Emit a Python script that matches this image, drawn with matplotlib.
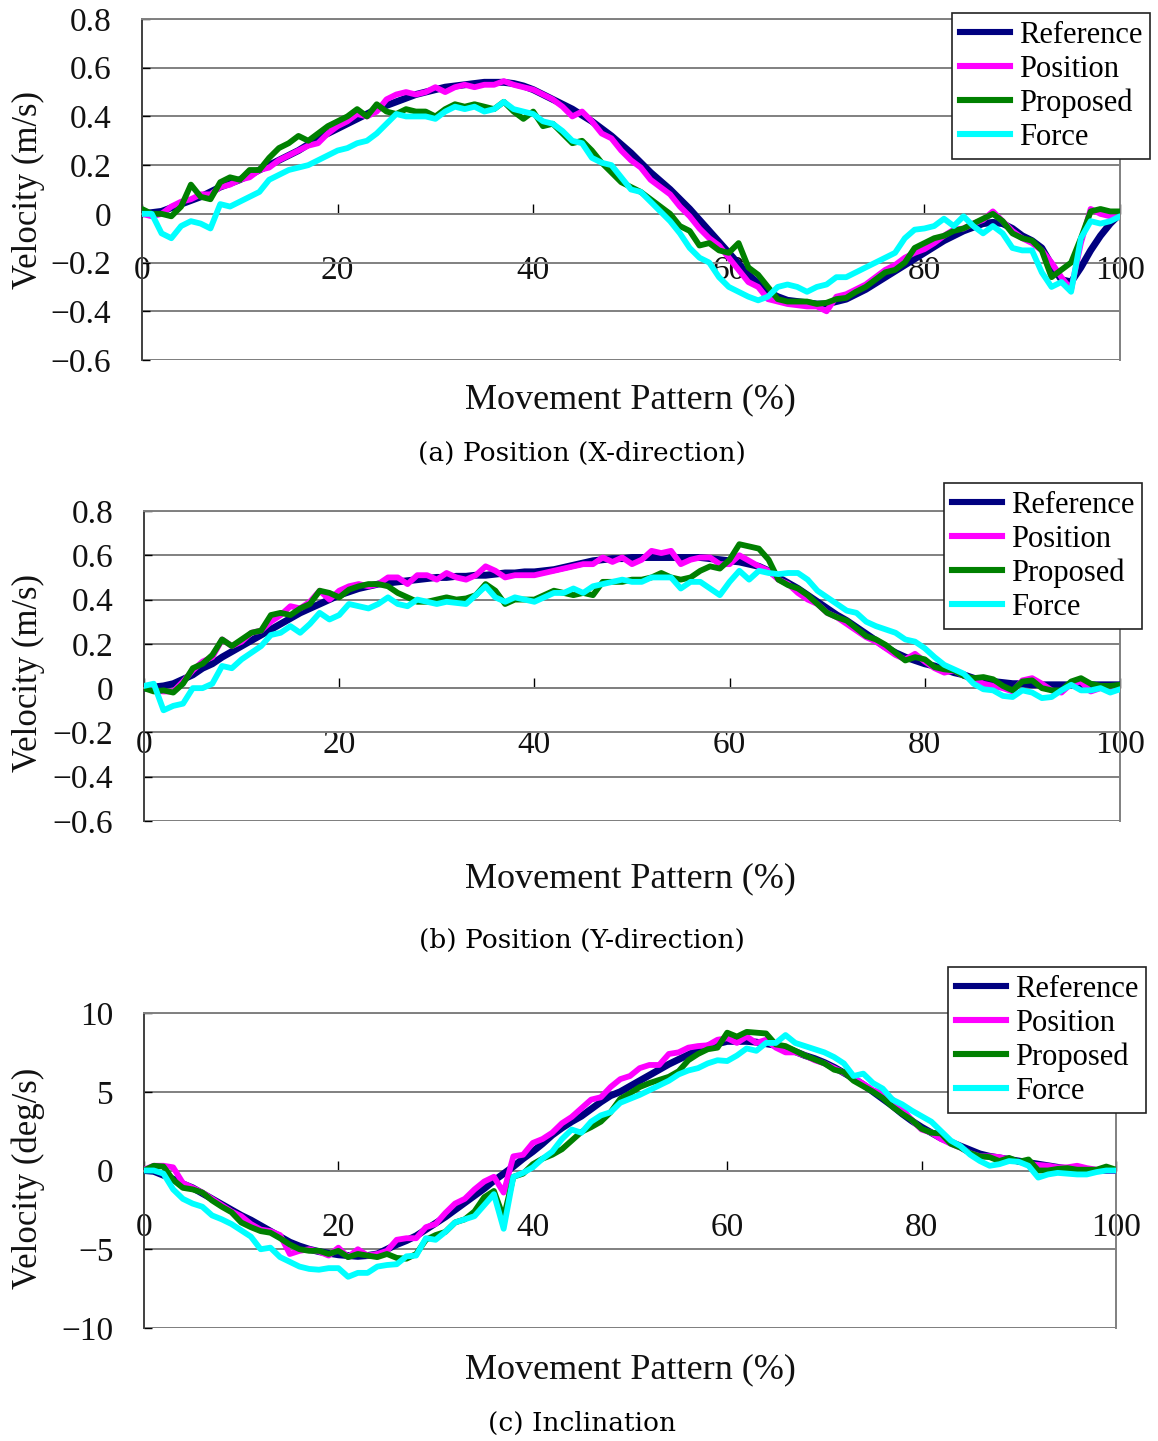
import matplotlib
matplotlib.use("Agg")
import matplotlib.pyplot as plt
from matplotlib.ticker import FuncFormatter
from matplotlib.lines import Line2D

W, H = 1158, 1441

# movement pattern axis (percent)
PCT = list(range(0, 101))

# ---- panel (a): velocity, X direction (m/s)
REF_A = [0.0, 0.005, 0.01, 0.025, 0.04, 0.055, 0.07, 0.09, 0.11, 0.125,
         0.14, 0.16, 0.18, 0.2, 0.22, 0.24, 0.26, 0.285, 0.31, 0.33,
         0.35, 0.37, 0.39, 0.41, 0.43, 0.445, 0.46, 0.475, 0.49, 0.5,
         0.51, 0.52, 0.525, 0.53, 0.535, 0.54, 0.54, 0.54, 0.535, 0.525,
         0.51, 0.49, 0.47, 0.45, 0.43, 0.405, 0.38, 0.35, 0.32, 0.285,
         0.25, 0.21, 0.17, 0.135, 0.1, 0.06, 0.02, -0.025, -0.07, -0.115,
         -0.16, -0.205, -0.25, -0.285, -0.32, -0.34, -0.355, -0.36, -0.365, -0.37,
         -0.37, -0.36, -0.35, -0.33, -0.31, -0.285, -0.26, -0.235, -0.21, -0.185,
         -0.16, -0.135, -0.11, -0.09, -0.07, -0.055, -0.04, -0.035, -0.04, -0.06,
         -0.09, -0.11, -0.14, -0.21, -0.27, -0.28, -0.22, -0.15, -0.09, -0.04,
         0.0]
MAG_A = [0.0, -0.01, 0.0, 0.03, 0.05, 0.06, 0.08, 0.08, 0.11, 0.12,
         0.14, 0.15, 0.18, 0.19, 0.22, 0.24, 0.26, 0.28, 0.29, 0.33,
         0.36, 0.38, 0.41, 0.4, 0.42, 0.47, 0.49, 0.5, 0.49, 0.5,
         0.52, 0.5, 0.52, 0.53, 0.52, 0.53, 0.53, 0.545, 0.53, 0.52,
         0.51, 0.49, 0.47, 0.44, 0.4, 0.42, 0.38, 0.33, 0.31, 0.26,
         0.22, 0.19, 0.14, 0.11, 0.08, 0.03, -0.01, -0.06, -0.1, -0.13,
         -0.18, -0.23, -0.28, -0.3, -0.35, -0.36, -0.37, -0.375, -0.38, -0.38,
         -0.4, -0.34, -0.33, -0.31, -0.29, -0.26, -0.23, -0.21, -0.18, -0.16,
         -0.145, -0.12, -0.09, -0.065, -0.06, -0.04, -0.025, 0.01, -0.03, -0.07,
         -0.1, -0.12, -0.15, -0.2, -0.26, -0.31, -0.12, 0.02, 0.0, -0.01,
         -0.01]
GRN_A = [0.02, 0.0, 0.0, -0.01, 0.03, 0.12, 0.07, 0.06, 0.13, 0.15,
         0.14, 0.18, 0.18, 0.23, 0.27, 0.29, 0.32, 0.3, 0.33, 0.36,
         0.38, 0.4, 0.43, 0.4, 0.45, 0.42, 0.41, 0.43, 0.42, 0.42,
         0.4, 0.43, 0.45, 0.44, 0.45, 0.44, 0.43, 0.46, 0.42, 0.39,
         0.42, 0.36, 0.37, 0.33, 0.29, 0.3, 0.26, 0.21, 0.17, 0.13,
         0.11, 0.09, 0.06, 0.03, 0.0, -0.05, -0.07, -0.13, -0.12, -0.15,
         -0.16, -0.12, -0.22, -0.25, -0.3, -0.35, -0.36, -0.36, -0.36, -0.37,
         -0.365, -0.35, -0.345, -0.32, -0.3, -0.27, -0.24, -0.23, -0.2, -0.14,
         -0.12, -0.1, -0.09, -0.07, -0.06, -0.04, -0.02, 0.0, -0.03, -0.08,
         -0.1, -0.11, -0.15, -0.26, -0.23, -0.2, -0.1, 0.01, 0.02, 0.01,
         0.01]
CYN_A = [0.0, 0.0, -0.08, -0.1, -0.05, -0.03, -0.04, -0.06, 0.04, 0.03,
         0.05, 0.07, 0.09, 0.14, 0.16, 0.18, 0.19, 0.2, 0.22, 0.24,
         0.26, 0.27, 0.29, 0.3, 0.33, 0.37, 0.41, 0.4, 0.4, 0.4,
         0.39, 0.42, 0.44, 0.43, 0.44, 0.42, 0.43, 0.46, 0.43, 0.42,
         0.41, 0.38, 0.37, 0.34, 0.3, 0.29, 0.23, 0.21, 0.2, 0.15,
         0.1, 0.09, 0.05, 0.01, -0.03, -0.08, -0.14, -0.18, -0.2, -0.26,
         -0.3, -0.32, -0.34, -0.355, -0.34, -0.3, -0.29, -0.3, -0.32, -0.3,
         -0.29, -0.26, -0.26, -0.24, -0.22, -0.2, -0.18, -0.16, -0.1, -0.065,
         -0.06, -0.05, -0.02, -0.05, -0.01, -0.05, -0.08, -0.05, -0.08, -0.14,
         -0.15, -0.15, -0.24, -0.3, -0.28, -0.32, -0.1, -0.03, -0.04, -0.03,
         -0.01]

# ---- panel (b): velocity, Y direction (m/s)
REF_B = [0.0, 0.005, 0.01, 0.02, 0.04, 0.06, 0.09, 0.11, 0.14, 0.165,
         0.19, 0.215, 0.24, 0.265, 0.29, 0.315, 0.34, 0.36, 0.38, 0.4,
         0.42, 0.435, 0.45, 0.46, 0.47, 0.475, 0.48, 0.485, 0.49, 0.495,
         0.5, 0.5, 0.505, 0.505, 0.51, 0.51, 0.515, 0.52, 0.52, 0.525,
         0.525, 0.53, 0.535, 0.545, 0.555, 0.565, 0.575, 0.58, 0.585, 0.585,
         0.59, 0.59, 0.59, 0.59, 0.59, 0.59, 0.59, 0.59, 0.585, 0.58,
         0.575, 0.57, 0.56, 0.55, 0.53, 0.5, 0.475, 0.45, 0.42, 0.39,
         0.36, 0.33, 0.305, 0.275, 0.245, 0.215, 0.185, 0.16, 0.14, 0.125,
         0.11, 0.1, 0.085, 0.07, 0.06, 0.045, 0.035, 0.03, 0.025, 0.02,
         0.02, 0.015, 0.015, 0.015, 0.015, 0.015, 0.015, 0.015, 0.015, 0.015,
         0.015]
MAG_B = [0.01, -0.01, -0.015, -0.015, 0.03, 0.08, 0.12, 0.14, 0.22, 0.19,
         0.21, 0.25, 0.26, 0.3, 0.33, 0.37, 0.36, 0.39, 0.44, 0.4,
         0.44, 0.46, 0.47, 0.46, 0.47, 0.5, 0.5, 0.47, 0.51, 0.51,
         0.49, 0.52, 0.5, 0.49, 0.51, 0.55, 0.53, 0.5, 0.51, 0.51,
         0.51, 0.52, 0.53, 0.54, 0.55, 0.56, 0.56, 0.59, 0.57, 0.59,
         0.56, 0.58, 0.62, 0.61, 0.62, 0.56, 0.58, 0.59, 0.59, 0.56,
         0.56, 0.6, 0.575, 0.55, 0.53, 0.49, 0.47, 0.43, 0.4, 0.38,
         0.34, 0.32, 0.29, 0.26, 0.23, 0.21, 0.18, 0.15, 0.13, 0.155,
         0.12, 0.09, 0.07, 0.08, 0.055, 0.04, 0.02, 0.01, 0.0, -0.015,
         0.035, 0.045, 0.02, -0.01, -0.02, 0.02, 0.03, -0.015, 0.0, 0.0,
         0.0]
GRN_B = [0.0, -0.015, -0.01, -0.02, 0.02, 0.09, 0.11, 0.15, 0.22, 0.19,
         0.22, 0.25, 0.26, 0.33, 0.34, 0.33, 0.36, 0.38, 0.44, 0.43,
         0.41, 0.445, 0.46, 0.47, 0.47, 0.46, 0.43, 0.41, 0.39, 0.39,
         0.4, 0.41, 0.4, 0.405, 0.42, 0.47, 0.44, 0.38, 0.4, 0.4,
         0.4, 0.42, 0.44, 0.43, 0.42, 0.43, 0.42, 0.48, 0.48, 0.48,
         0.49, 0.49, 0.5, 0.52, 0.5, 0.49, 0.5, 0.53, 0.55, 0.54,
         0.58, 0.65, 0.64, 0.63, 0.58, 0.49, 0.465, 0.45, 0.42, 0.38,
         0.34, 0.32, 0.305, 0.27, 0.235, 0.22, 0.195, 0.16, 0.125, 0.14,
         0.13, 0.095, 0.085, 0.08, 0.055, 0.045, 0.05, 0.04, 0.01, -0.01,
         0.03, 0.035, 0.0, -0.01, -0.01, 0.03, 0.045, 0.02, 0.01, 0.01,
         0.015]
CYN_B = [0.01, 0.02, -0.1, -0.08, -0.07, 0.0, 0.0, 0.02, 0.1, 0.09,
         0.13, 0.16, 0.19, 0.24, 0.25, 0.28, 0.25, 0.29, 0.34, 0.31,
         0.33, 0.38, 0.37, 0.36, 0.38, 0.41, 0.38, 0.37, 0.4, 0.39,
         0.38, 0.39, 0.385, 0.38, 0.42, 0.46, 0.41, 0.39, 0.41, 0.4,
         0.39, 0.41, 0.43, 0.43, 0.45, 0.43, 0.46, 0.47, 0.48, 0.49,
         0.48, 0.48, 0.5, 0.5, 0.5, 0.45, 0.48, 0.48, 0.45, 0.42,
         0.48, 0.53, 0.49, 0.53, 0.52, 0.515, 0.52, 0.52, 0.49, 0.44,
         0.41, 0.38, 0.35, 0.34, 0.3, 0.28, 0.265, 0.25, 0.22, 0.21,
         0.18, 0.14, 0.105, 0.085, 0.065, 0.02, -0.005, -0.01, -0.035, -0.04,
         -0.01, -0.02, -0.045, -0.04, -0.01, 0.015, -0.01, -0.01, 0.0, -0.02,
         -0.005]

# ---- panel (c): inclination velocity (deg/s)
REF_C = [0.0, -0.05, -0.3, -0.55, -0.85, -1.1, -1.45, -1.8, -2.15, -2.5,
         -2.85, -3.15, -3.5, -3.85, -4.2, -4.55, -4.8, -5.0, -5.15, -5.25,
         -5.35, -5.4, -5.45, -5.4, -5.3, -5.0, -4.7, -4.45, -4.15, -3.75,
         -3.35, -2.95, -2.5, -2.05, -1.6, -1.15, -0.65, -0.2, 0.25, 0.75,
         1.2, 1.7, 2.25, 2.7, 3.1, 3.45, 3.9, 4.35, 4.75, 5.0,
         5.35, 5.7, 6.05, 6.4, 6.75, 7.05, 7.35, 7.65, 7.9, 8.05,
         8.2, 8.2, 8.2, 8.15, 8.05, 7.95, 7.8, 7.55, 7.3, 7.1,
         6.85, 6.55, 6.2, 5.85, 5.45, 5.0, 4.55, 4.1, 3.6, 3.15,
         2.75, 2.4, 2.05, 1.8, 1.55, 1.3, 1.05, 0.9, 0.8, 0.7,
         0.6, 0.5, 0.4, 0.3, 0.2, 0.1, 0.05, 0.0, 0.0, 0.0,
         0.0]
MAG_C = [0.05, 0.3, 0.3, 0.2, -0.8, -1.1, -1.4, -1.8, -2.2, -2.6,
         -2.9, -3.4, -3.75, -3.85, -4.1, -5.3, -5.1, -5.0, -5.15, -5.4,
         -4.9, -5.5, -5.0, -5.4, -5.3, -5.1, -4.4, -4.3, -4.3, -3.6,
         -3.4, -2.7, -2.1, -1.8, -1.2, -0.7, -0.4, -1.4, 0.9, 1.0,
         1.75, 2.0, 2.4, 3.0, 3.4, 3.95, 4.5, 4.65, 5.3, 5.8,
         6.0, 6.5, 6.7, 6.7, 7.4, 7.5, 7.8, 7.9, 7.95, 8.3,
         8.4, 8.1, 8.5, 8.1, 8.3, 7.8, 7.5, 7.5, 7.3, 7.0,
         6.8, 6.5, 6.2, 5.9, 5.5, 5.1, 4.9, 4.5, 3.9, 3.2,
         2.6, 2.4, 2.0, 1.7, 1.45, 1.1, 0.9, 0.9, 0.85, 0.7,
         0.55, 0.4, 0.35, 0.3, 0.2, 0.2, 0.3, 0.15, 0.05, 0.0,
         0.0]
GRN_C = [0.0, 0.3, 0.25, -0.6, -1.1, -1.2, -1.4, -1.9, -2.3, -2.65,
         -3.3, -3.6, -3.85, -3.95, -4.3, -4.7, -5.0, -5.1, -5.1, -5.3,
         -5.1, -5.5, -5.3, -5.4, -5.5, -5.3, -5.55, -5.6, -5.3, -4.4,
         -4.1, -3.9, -3.3, -3.1, -2.6, -1.7, -1.3, -3.0, -0.4, -0.2,
         0.4, 0.75, 1.0, 1.35, 1.9, 2.45, 2.75, 3.1, 3.7, 4.55,
         4.9, 5.3, 5.55, 5.75, 5.95, 6.3, 7.0, 7.4, 7.7, 7.8,
         8.75, 8.5, 8.8, 8.75, 8.7, 8.0, 7.9, 7.6, 7.3, 7.05,
         6.8, 6.4, 6.25, 5.7, 5.35, 5.0, 4.6, 4.05, 3.6, 3.2,
         2.65, 2.4, 2.35, 1.7, 1.45, 1.1, 0.9, 0.85, 0.6, 0.8,
         0.55, 0.7, 0.0, 0.0, 0.1, 0.15, 0.05, 0.05, 0.05, 0.25,
         0.05]
CYN_C = [0.0, 0.0, -0.2, -1.2, -1.8, -2.1, -2.3, -2.85, -3.1, -3.4,
         -3.8, -4.2, -5.0, -4.9, -5.5, -5.8, -6.1, -6.25, -6.3, -6.2,
         -6.2, -6.75, -6.5, -6.5, -6.1, -6.0, -5.95, -5.45, -5.4, -4.3,
         -4.4, -3.9, -3.3, -3.1, -2.9, -2.2, -1.5, -3.7, -0.4, -0.15,
         0.2, 0.75, 1.2, 2.0, 2.6, 2.4, 3.1, 3.5, 3.7, 4.3,
         4.55, 4.8, 5.1, 5.4, 5.7, 6.1, 6.35, 6.5, 6.8, 7.0,
         6.95, 7.3, 7.75, 7.6, 8.1, 8.1, 8.6, 8.1, 7.9, 7.7,
         7.5, 7.2, 6.8, 6.0, 6.15, 5.55, 5.2, 4.5, 4.2, 3.8,
         3.45, 3.1, 2.5, 1.9, 1.55, 1.0, 0.6, 0.3, 0.4, 0.6,
         0.55, 0.3, -0.45, -0.25, -0.15, -0.2, -0.25, -0.25, -0.1, 0.0,
         0.0]

LABELS = ["Reference", "Position", "Proposed", "Force"]
COLORS = ["#000080", "#ff00ff", "#008000", "#00ffff"]
WIDTHS = [5.0, 4.2, 4.2, 4.2]

SERIF = ["Liberation Serif", "DejaVu Serif"]
plt.rcParams["font.family"] = SERIF
plt.rcParams["axes.unicode_minus"] = True


def fx(px):
    return px / W


def fy(py):
    return 1 - py / H


def fmt_m(v, pos):
    if abs(v) < 1e-9:
        return "0"
    return f"{v:.1f}".replace("-", "\u2212")


def fmt_deg(v, pos):
    if abs(v) < 1e-9:
        return "0"
    return f"{v:.0f}".replace("-", "\u2212")


def panel(fig, box, ylim, yticks, fmt, ylabel, ylab_y, series, leg_xy, xlab_y, caption, cap_y):
    l, t, r, b = box
    ax = fig.add_axes([fx(l), fy(b), fx(r) - fx(l), fy(t) - fy(b)])
    for ys, lab, c, lw in zip(series, LABELS, COLORS, WIDTHS):
        ax.plot(PCT, ys, color=c, lw=lw, label=lab,
                solid_joinstyle="round", solid_capstyle="round", zorder=3)
    ax.set_xlim(0, 100)
    ax.set_ylim(*ylim)
    ax.set_yticks(yticks)
    ax.yaxis.set_major_formatter(FuncFormatter(fmt))
    ax.set_xticks([0, 20, 40, 60, 80, 100])
    ax.set_xticklabels(["0", "20", "40", "60", "80", "100"])
    ax.yaxis.grid(True, color="#808080", lw=1.4, zorder=1)
    ax.set_axisbelow(True)
    ax.axhline(ylim[0], color="#808080", lw=1.4, zorder=1)
    ax.spines["bottom"].set_position(("data", 0))
    ax.spines["bottom"].set_color("#808080")
    ax.spines["bottom"].set_linewidth(1.4)
    ax.spines["top"].set_color("#808080")
    ax.spines["top"].set_linewidth(1.4)
    ax.spines["right"].set_color("#808080")
    ax.spines["right"].set_linewidth(1.4)
    ax.spines["left"].set_color("#404040")
    ax.spines["left"].set_linewidth(1.4)
    ax.tick_params(axis="x", direction="in", length=7, width=1, color="black",
                   labelsize=24, pad=30)
    ax.tick_params(axis="y", direction="in", length=6, width=1, color="black",
                   labelsize=24, pad=22)
    for lbl in ax.get_xticklabels() + ax.get_yticklabels():
        lbl.set_color("#111111")

    fig.text(fx(28), fy(ylab_y), ylabel, rotation=90, ha="center", va="center",
             fontsize=25, color="#111111")
    fig.text(fx(630), fy(xlab_y), "Movement Pattern (%)", ha="center", va="center",
             fontsize=26, color="#111111")
    fig.text(fx(582), fy(cap_y), caption, ha="center", va="center",
             fontsize=19, color="black", family=["DejaVu Serif"])

    handles = [Line2D([0], [0], color=c, lw=4.4) for c in COLORS]
    leg = ax.legend(handles, LABELS, loc="upper left",
                    bbox_to_anchor=(fx(leg_xy[0]), fy(leg_xy[1])),
                    bbox_transform=fig.transFigure, frameon=True, fancybox=False,
                    edgecolor="#222222", framealpha=1, borderaxespad=0,
                    borderpad=0.25, handlelength=1.65, handletextpad=0.3,
                    labelspacing=0.16, fontsize=22)
    leg.get_frame().set_linewidth(1.2)
    leg.set_zorder(10)
    return ax


def main():
    fig = plt.figure(figsize=(W / 100, H / 100), dpi=100)
    fig.patch.set_facecolor("white")

    panel(fig, (142, 19, 1120, 360), (-0.6, 0.8),
          [-0.6, -0.4, -0.2, 0, 0.2, 0.4, 0.6, 0.8], fmt_m,
          "Velocity (m/s)", 190, [REF_A, MAG_A, GRN_A, CYN_A],
          (952, 13), 400, "(a) Position (X-direction)", 453)

    panel(fig, (144, 511, 1120, 821), (-0.6, 0.8),
          [-0.6, -0.4, -0.2, 0, 0.2, 0.4, 0.6, 0.8], fmt_m,
          "Velocity (m/s)", 673, [REF_B, MAG_B, GRN_B, CYN_B],
          (944, 483), 879, "(b) Position (Y-direction)", 940)

    panel(fig, (144, 1013, 1116, 1328), (-10, 10),
          [-10, -5, 0, 5, 10], fmt_deg,
          "Velocity (deg/s)", 1178, [REF_C, MAG_C, GRN_C, CYN_C],
          (948, 967), 1370, "(c) Inclination", 1423)

    fig.savefig("out.png", dpi=100)


if __name__ == "__main__":
    main()
